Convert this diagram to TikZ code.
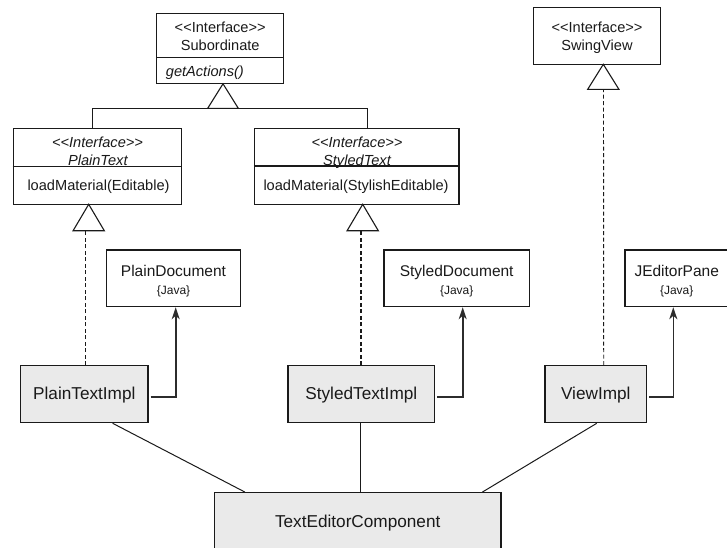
\documentclass[tikz,border=0pt]{standalone}
\usepackage{fontspec}
\setmainfont{Liberation Sans}
\usetikzlibrary{arrows.meta,calc}
\definecolor{ink}{HTML}{1A1A1A}
\definecolor{implfill}{HTML}{EAEAEA}
% guillemet-free stereotype marks
\newcommand\umlst[1]{<\kern0pt<#1>\kern0pt>}
\begin{document}
\begin{tikzpicture}[x=1pt,y=-1pt,
  box/.style={draw=ink, line width=1.2pt, fill=white, inner sep=0pt},
  implbox/.style={box, fill=implfill},
  lbl/.style={inner sep=0pt, anchor=base, text=ink, font=\fontsize{14.6}{16}\selectfont},
  ilbl/.style={lbl, font=\fontsize{14.6}{16}\selectfont\itshape},
  docl/.style={lbl, font=\fontsize{15.5}{17}\selectfont},
  javal/.style={lbl, font=\fontsize{12}{14}\selectfont},
  impll/.style={lbl, font=\fontsize{17.2}{19}\selectfont},
  divider/.style={draw=ink, line width=1.2pt},
  gen/.style={draw=ink, line width=1.1pt, fill=white, line join=miter},
  genline/.style={draw=ink, line width=1.1pt},
  real/.style={draw=ink, line width=0.9pt, dash pattern=on 4pt off 2.5pt},
  realbold/.style={draw=ink, line width=1.8pt, dash pattern=on 4pt off 2.5pt},
  dep/.style={draw=ink!92, line width=1.6pt, -{Stealth[length=12pt,width=8pt,inset=3.5pt]}},
  assoc/.style={draw=ink, line width=1pt}
]
\clip (0,0) rectangle (727,547);

% ---------- interfaces ----------
\node[box, minimum width=127pt, minimum height=70pt] (sub) at (220.2,48.3) {};
\draw[divider] ([yshift=-9pt]sub.west) -- ([yshift=-9pt]sub.east);
\node[lbl] (subst) at (220.2,32.7) {\umlst{Interface}};
\node[lbl] (subname) at (220.2,50.7) {Subordinate};
\node[ilbl, anchor=base west] (subop) at (165.7,76.3) {getActions()};

\node[box, minimum width=168.4pt, minimum height=76pt] (plain) at (97.5,166.3) {};
\draw[divider] ([yshift=-0.4pt]plain.west) -- ([yshift=-0.4pt]plain.east);
\node[ilbl] (plainst) at (97.5,147.3) {\umlst{Interface}};
\node[ilbl] (plainname) at (97.8,165.6) {PlainText};
\node[lbl, anchor=base west] (plainop) at (27.3,190) {loadMaterial(Editable)};

\node[box, minimum width=204.7pt, minimum height=76pt] (styled) at (356.7,166.3) {};
\draw[divider] ([yshift=0.3pt]styled.west) -- ([yshift=0.3pt]styled.east);
\node[ilbl] (styledst) at (357,147.3) {\umlst{Interface}};
\node[ilbl] (styledname) at (357,165.6) {StyledText};
\node[lbl, anchor=base west] (styledop) at (263.3,190) {loadMaterial(StylishEditable)};

\node[box, minimum width=127.4pt, minimum height=57pt] (swing) at (597,35.8) {};
\node[lbl] (swingst) at (597,32.7) {\umlst{Interface}};
\node[lbl] (swingname) at (597,50) {SwingView};

% ---------- Java classes ----------
\node[box, minimum width=133.6pt, minimum height=56.7pt] (pdoc) at (173.5,278.3) {};
\node[docl] at (173.5,276.7) {PlainDocument};
\node[javal] at (173.5,294) {\{Java\}};

\node[box, minimum width=145.3pt, minimum height=56.7pt] (sdoc) at (456.7,278.3) {};
\node[docl] at (456.7,276.7) {StyledDocument};
\node[javal] at (456.7,294) {\{Java\}};

\node[box, minimum width=103.4pt, minimum height=56.7pt] (jep) at (676.7,278.3) {};
\node[docl, anchor=base west] at (634.3,276.7) {JEditorPane};
\node[javal] at (676.7,294) {\{Java\}};

% ---------- implementations ----------
\node[implbox, minimum width=127.3pt, minimum height=57pt] (pti) at (84.3,394.2) {};
\node[impll] at (84.3,399) {PlainTextImpl};
\node[implbox, minimum width=146.7pt, minimum height=57pt] (sti) at (361.3,394.2) {};
\node[impll] at (361.3,399) {StyledTextImpl};
\node[implbox, minimum width=101.7pt, minimum height=57pt] (vi) at (595.8,394.2) {};
\node[impll] at (595.8,399) {ViewImpl};

\node[implbox, minimum width=286.7pt, minimum height=60pt] (tec) at (357.7,522.7) {};
\node[impll] at (357.7,527.7) {TextEditorComponent};

% ---------- generalisation: PlainText / StyledText -> Subordinate ----------
\coordinate (tsub) at (223,83.8);
\coordinate (tsubbase) at (223,108.3);
\draw[genline] ([xshift=-5.2pt]plain.north) |- (tsubbase) -| ([xshift=10.6pt]styled.north);
\draw[gen] (tsub) -- ++(-15.3,24.5) -- ++(30.6,0) -- cycle;

% ---------- realisations ----------
\coordinate (tplain) at (88.7,204.3);
\coordinate (tplainbase) at (85.7,230.7);
\draw[real] ([xshift=1.4pt]pti.north) -- (tplainbase);
\draw[gen] (tplain) -- ++(-15.6,26.4) -- ++(31.2,0) -- cycle;

\coordinate (tstyled) at (362.7,204.3);
\coordinate (tstyledbase) at (360.7,230.7);
\draw[realbold] ([xshift=-0.6pt]sti.north) -- (tstyledbase);
\draw[gen] (tstyled) -- ++(-15.6,26.4) -- ++(31.2,0) -- cycle;

\coordinate (tswing) at (603.3,64.3);
\coordinate (tswingbase) at (603.5,89.3);
\draw[real] ([xshift=7.9pt]vi.north) -- (tswingbase);
\draw[gen] (tswing) -- ++(-15.6,25) -- ++(31.2,0) -- cycle;

% ---------- dependencies on Java classes ----------
\draw[dep] ([yshift=-2.5pt,xshift=2pt]pti.east) -| ([xshift=2.2pt]pdoc.south);
\draw[dep] ([yshift=-2.5pt,xshift=2pt]sti.east) -| ([xshift=6pt]sdoc.south);
\draw[dep] ([yshift=-2.5pt,xshift=2pt]vi.east) -| ([xshift=-3.4pt]jep.south);

% ---------- associations to the component ----------
\draw[assoc] ([xshift=28.4pt]pti.south) -- ([xshift=-112.7pt]tec.north);
\draw[assoc] ([xshift=-1pt]sti.south) -- ([xshift=2.6pt]tec.north);
\draw[assoc] ([xshift=0.9pt]vi.south) -- ([xshift=124.6pt]tec.north);
\end{tikzpicture}
\end{document}
